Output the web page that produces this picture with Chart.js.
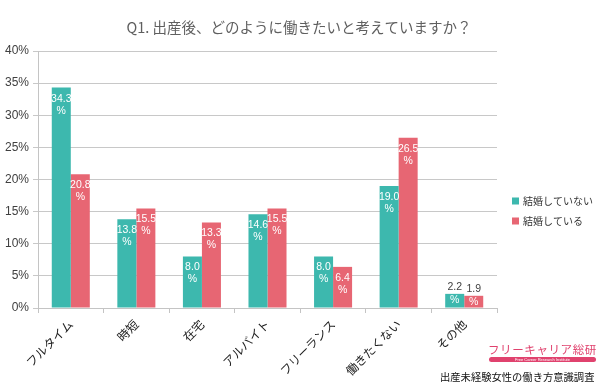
<!DOCTYPE html>
<html>
<head>
<meta charset="utf-8">
<script src="https://cdn.jsdelivr.net/npm/chart.js@4"></script>
<style>
html,body{margin:0;padding:0;background:#fff;}
#wrap{position:relative;width:600px;height:387px;overflow:hidden;}
#c{position:absolute;left:0;top:0;}
.logo{position:absolute;left:488px;top:341px;width:108px;font-family:"Noto Sans CJK JP";font-size:11.5px;letter-spacing:0.6px;color:#E0426E;line-height:16px;white-space:nowrap;}
.bar{position:absolute;left:489px;top:357px;width:107px;height:5px;border-radius:3px;background:#E0426E;color:#fff;font-family:"Liberation Sans";font-size:4px;line-height:5px;text-align:center;white-space:nowrap;}
.note{position:absolute;left:440px;top:369px;font-family:"Noto Sans CJK JP";font-size:10.3px;color:#111;line-height:16px;white-space:nowrap;}
</style>
</head>
<body>
<div id="wrap">
<canvas id="c" width="600" height="387"></canvas>
<div class="logo">フリーキャリア総研</div>
<div class="bar">Free Career Research Institute</div>
<div class="note">出産未経験女性の働き方意識調査</div>
</div>
<script>
const titleText = "Q1. 出産後、どのように働きたいと考えていますか？";
const categories = ["フルタイム", "時短", "在宅", "アルバイト", "フリーランス", "働きたくない", "その他"];
const seriesNames = ["結婚していない", "結婚している"];
const unmarried = [34.3, 13.8, 8.0, 14.6, 8.0, 19.0, 2.2];
const married = [20.8, 15.5, 13.3, 15.5, 6.4, 26.5, 1.9];
const yTicks = [0, 5, 10, 15, 20, 25, 30, 35, 40];

const TEAL = "#3DB8AE";
const RED = "#E76673";

const labelPlugin = {
  id: "barLabels",
  afterDatasetsDraw(chart) {
    const ctx = chart.ctx;
    ctx.save();
    ctx.font = "10.5px 'Liberation Sans'";
    ctx.textAlign = "center";
    ctx.textBaseline = "middle";
    chart.data.datasets.forEach((ds, di) => {
      const meta = chart.getDatasetMeta(di);
      meta.data.forEach((bar, i) => {
        const v = ds.data[i];
        const h = bar.base - bar.y;
        if (h < 25) {
          ctx.fillStyle = "#404040";
          ctx.fillText(v.toFixed(1), bar.x, bar.y - 7);
          ctx.fillStyle = "#fff";
          ctx.fillText("%", bar.x, bar.y + 6);
        } else {
          ctx.fillStyle = "#fff";
          ctx.fillText(v.toFixed(1), bar.x, bar.y + 11);
          ctx.fillText("%", bar.x, bar.y + 23);
        }
      });
    });
    ctx.restore();
  }
};

const decorPlugin = {
  id: "decor",
  afterDraw(chart) {
    const ctx = chart.ctx;
    ctx.save();
    ctx.fillStyle = "#5f5f5f";
    ctx.font = "14.5px 'Noto Sans CJK JP'";
    ctx.textAlign = "center";
    ctx.textBaseline = "middle";
    ctx.fillText(titleText, 299, 27);
    const colors = [TEAL, RED];
    const ys = [201, 221];
    ctx.font = "10px 'Noto Sans CJK JP'";
    ctx.textAlign = "left";
    seriesNames.forEach((n, k) => {
      ctx.fillStyle = colors[k];
      ctx.fillRect(512, ys[k] - 3.5, 7, 7);
      ctx.fillStyle = "#333";
      ctx.fillText(n, 523, ys[k]);
    });
    ctx.restore();
  }
};

new Chart(document.getElementById("c"), {
  type: "bar",
  data: {
    labels: categories,
    datasets: [
      { label: seriesNames[0], data: unmarried, backgroundColor: TEAL },
      { label: seriesNames[1], data: married, backgroundColor: RED }
    ]
  },
  options: {
    responsive: false,
    animation: false,
    devicePixelRatio: 1,
    layout: { padding: { left: 0, top: 51, right: 103, bottom: 0 } },
    plugins: { legend: { display: false }, title: { display: false }, tooltip: { enabled: false } },
    datasets: { bar: { barPercentage: 1, categoryPercentage: 0.58 } },
    scales: {
      x: {
        afterFit(s) { s.height = 79; },
        grid: { drawOnChartArea: false, drawTicks: true, tickLength: 5, color: "#C4C4C4", offset: true },
        border: { color: "#C4C4C4", width: 1 },
        ticks: { maxRotation: 45, minRotation: 45, color: "#222", font: { family: "Noto Sans CJK JP", size: 12 }, padding: 4 }
      },
      y: {
        min: 0, max: 40,
        afterFit(s) { s.width = 38; },
        afterBuildTicks(s) { s.ticks = yTicks.map(v => ({ value: v })); },
        grid: { color: "#C8C8C8", tickLength: 5, lineWidth: 1 },
        border: { color: "#C4C4C4" },
        ticks: { color: "#404040", font: { family: "Liberation Sans", size: 12 }, padding: 4, callback: v => v + "%" }
      }
    }
  },
  plugins: [labelPlugin, decorPlugin]
});
</script>
</body>
</html>
